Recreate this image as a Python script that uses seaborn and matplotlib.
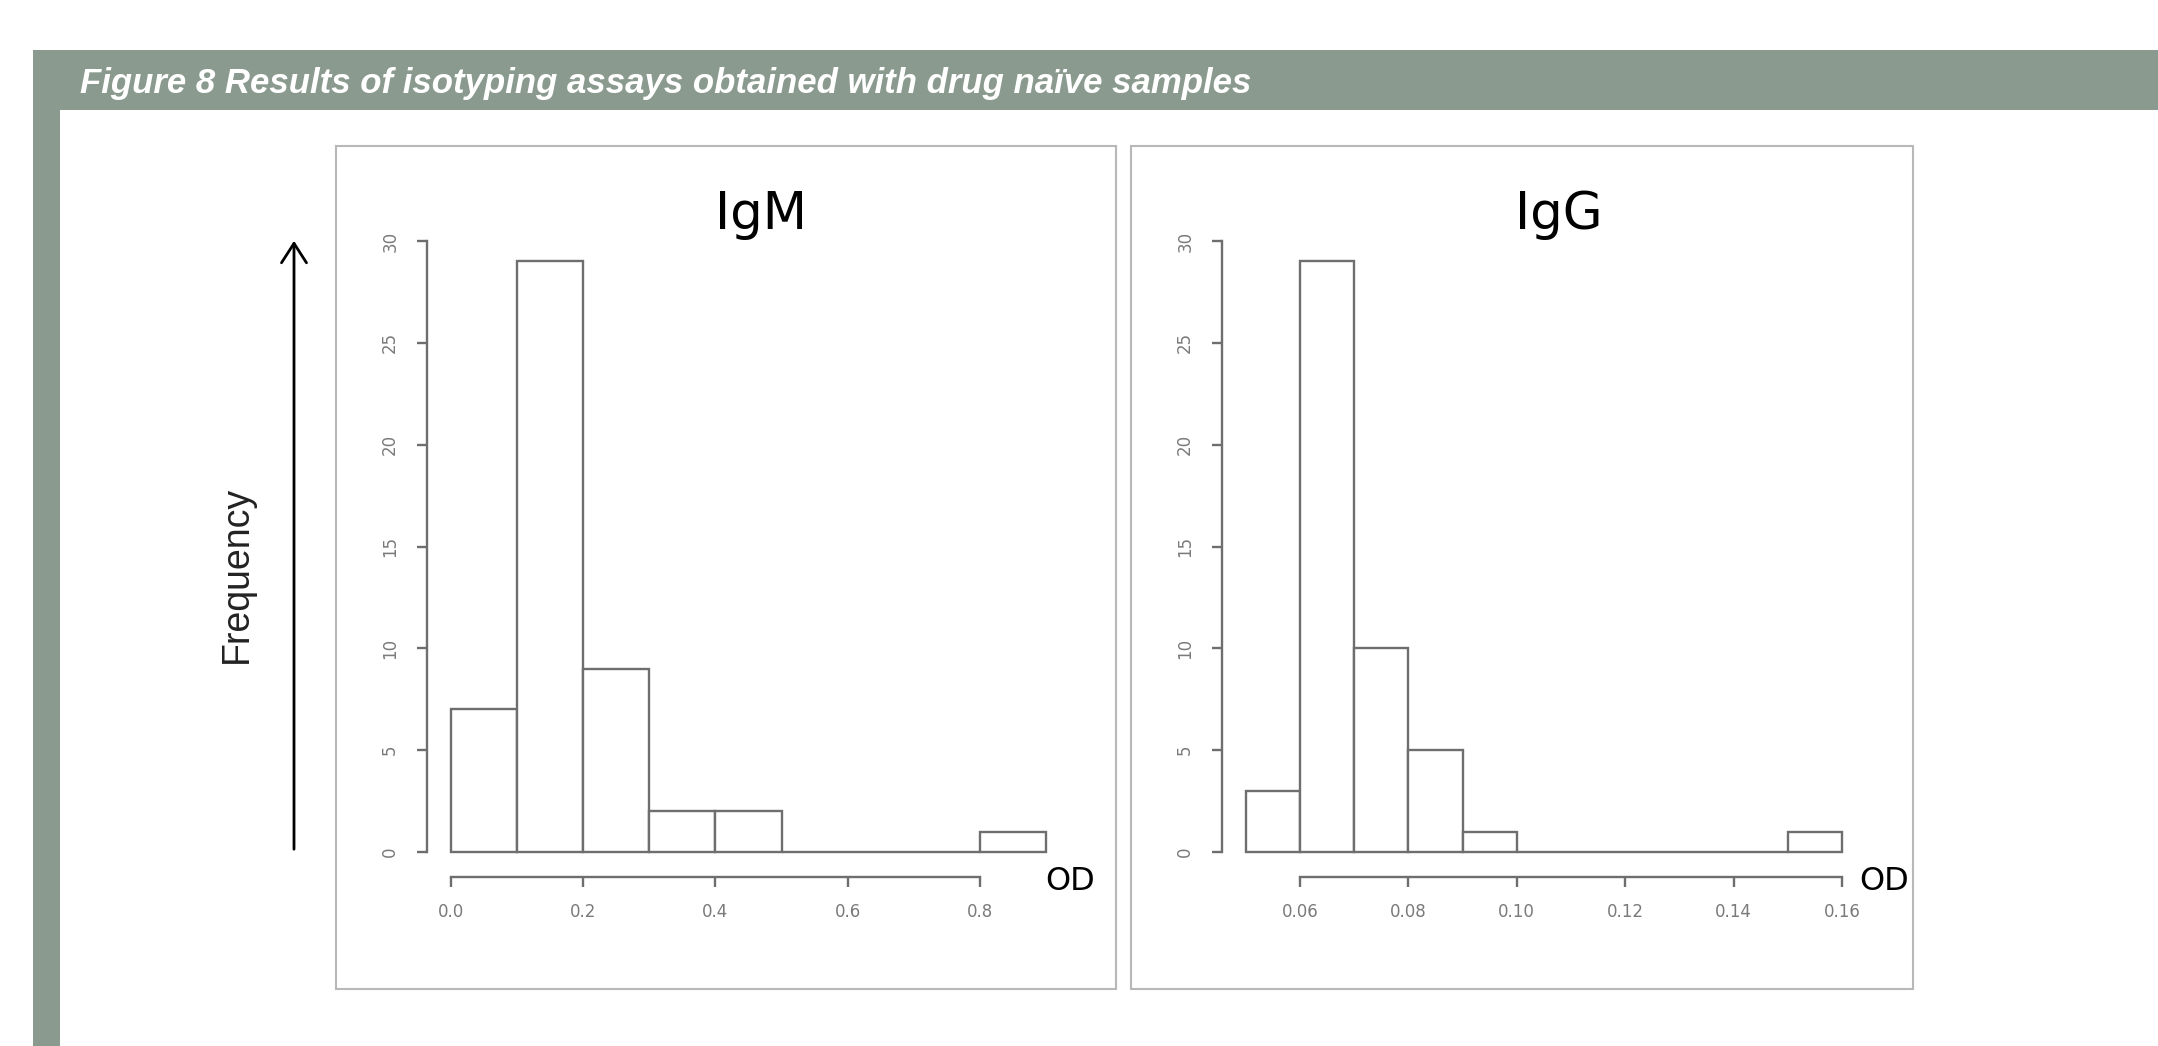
import numpy as np
import pandas as pd
import matplotlib
matplotlib.use("Agg")
import matplotlib.pyplot as plt
from matplotlib.patches import Rectangle, FancyArrowPatch
import seaborn as sns

# ---------------- data ----------------
igm_edges = [0.0, 0.1, 0.2, 0.3, 0.4, 0.5, 0.6, 0.7, 0.8, 0.9]
igm_counts = [7, 29, 9, 2, 2, 0, 0, 0, 1]
igg_edges = [0.05, 0.06, 0.07, 0.08, 0.09, 0.10, 0.11, 0.12, 0.13, 0.14, 0.15, 0.16]
igg_counts = [3, 29, 10, 5, 1, 0, 0, 0, 0, 0, 1]
igm_xticks = [0.0, 0.2, 0.4, 0.6, 0.8]
igm_xticklabels = ["0.0", "0.2", "0.4", "0.6", "0.8"]
igg_xticks = [0.06, 0.08, 0.10, 0.12, 0.14, 0.16]
igg_xticklabels = ["0.06", "0.08", "0.10", "0.12", "0.14", "0.16"]
y_ticks = [0, 5, 10, 15, 20, 25, 30]
y_ticklabels = ["0", "5", "10", "15", "20", "25", "30"]
panel_titles = ["IgM", "IgG"]
fig_title = "Figure 8 Results of isotyping assays obtained with drug naïve samples"

# ---------------- style ----------------
sns.set_style("white")
plt.rcParams["font.family"] = ["DejaVu Sans"]

W, H = 2158, 1046
DPI = 100
fig = plt.figure(figsize=(W / DPI, H / DPI), dpi=DPI)
fig.patch.set_facecolor("white")

def fx(px):
    return px / W

def fy(py):
    return 1 - py / H

HEADER = "#8a9a8f"
BAR_EDGE = "#6e6e6e"
TICK_COL = "#7a7a7a"
BOX_COL = "#b8b8b8"

# header bar and left strip
fig.add_artist(Rectangle((fx(33), fy(110)), fx(2158) - fx(33), (110 - 50) / H,
                         transform=fig.transFigure, color=HEADER, lw=0, zorder=0))
fig.add_artist(Rectangle((fx(33), 0), (60 - 33) / W, fy(50),
                         transform=fig.transFigure, color=HEADER, lw=0, zorder=0))
fig.text(fx(80), fy(83), fig_title, color="white", fontsize=25,
         fontweight="bold", fontstyle="italic", family=["Liberation Sans"],
         ha="left", va="center")

# panel frames
for x0, x1 in [(336, 1116), (1131, 1913)]:
    fig.add_artist(Rectangle((fx(x0), fy(989)), (x1 - x0) / W, (989 - 146) / H,
                             transform=fig.transFigure, fill=False,
                             edgecolor=BOX_COL, lw=1.5, zorder=1))

# Frequency label + arrow
fig.text(fx(237), fy(574), "Frequency", rotation=90, fontsize=27,
         family=["Liberation Sans"], color="#222222", ha="center", va="center")
fig.add_artist(FancyArrowPatch((fx(294), fy(852)), (fx(294), fy(238)),
                               transform=fig.transFigure,
                               arrowstyle="->,head_length=0.7,head_width=0.45",
                               mutation_scale=20, color="black", lw=2))

def make_panel(ax_left_px, ax_right_px, x_origin_val, x_origin_px, px_per_unit,
               edges, counts, xticks, xticklabels, title, title_xy, od_xy, xbound):
    ax_bottom_px, ax_top_px = 877, 200
    ax = fig.add_axes([fx(ax_left_px), fy(ax_bottom_px),
                       (ax_right_px - ax_left_px) / W, (ax_bottom_px - ax_top_px) / H])
    ax.set_facecolor("none")
    y_per = (852 - 241) / 30.0
    xl = x_origin_val + (ax_left_px - x_origin_px) / px_per_unit
    xr = x_origin_val + (ax_right_px - x_origin_px) / px_per_unit
    yb = -(ax_bottom_px - 852) / y_per
    yt = (852 - ax_top_px) / y_per
    centers = [(edges[i] + edges[i + 1]) / 2 for i in range(len(counts))]
    df = pd.DataFrame({"od": centers, "n": counts})
    sns.histplot(data=df, x="od", weights="n", bins=edges, ax=ax,
                 stat="count", color="white", edgecolor=BAR_EDGE,
                 linewidth=1.7, alpha=1, legend=False)
    ax.set_xlim(xl, xr)
    ax.set_ylim(yb, yt)
    for s in ["top", "right"]:
        ax.spines[s].set_visible(False)
    for s in ["left", "bottom"]:
        ax.spines[s].set_color(BAR_EDGE)
        ax.spines[s].set_linewidth(1.7)
    ax.spines["left"].set_bounds(0, 30)
    ax.spines["bottom"].set_bounds(*xbound)
    ax.set_yticks(y_ticks)
    ax.set_yticklabels(y_ticklabels)
    ax.set_xticks(xticks)
    ax.set_xticklabels(xticklabels)
    ax.tick_params(axis="both", which="major", direction="out", length=7, width=1.7,
                   color=BAR_EDGE, labelcolor=TICK_COL, labelsize=12,
                   bottom=True, left=True, top=False, right=False)
    ax.tick_params(axis="y", pad=13, labelrotation=90)
    ax.tick_params(axis="x", pad=12)
    for lab in ax.get_yticklabels():
        lab.set_va("center")
    ax.set_xlabel("")
    ax.set_ylabel("")
    ax.grid(False)
    fig.text(fx(title_xy[0]), fy(title_xy[1]), title, fontsize=37,
             ha="center", va="center", color="black")
    fig.text(fx(od_xy[0]), fy(od_xy[1]), "OD", fontsize=23,
             ha="center", va="center", color="black")
    return ax

make_panel(427, 1090, 0.0, 451, 661.0, igm_edges, igm_counts,
           igm_xticks, igm_xticklabels, panel_titles[0], (761, 215), (1070, 881), (0, 0.8))
make_panel(1222, 1880, 0.06, 1300, 5420.0, igg_edges, igg_counts,
           igg_xticks, igg_xticklabels, panel_titles[1], (1559, 215), (1884, 881), (0.06, 0.16))

fig.savefig("out.png", dpi=DPI)
